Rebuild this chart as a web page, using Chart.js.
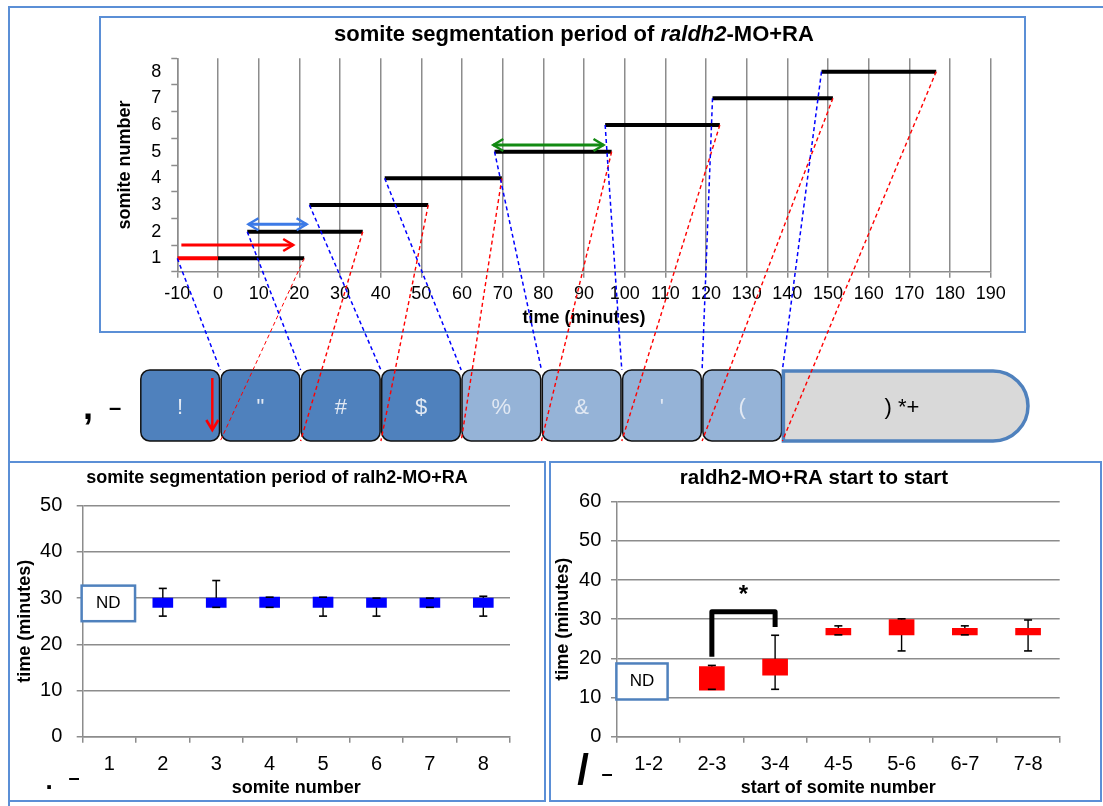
<!DOCTYPE html>
<html>
<head>
<meta charset="utf-8">
<script src="https://cdn.jsdelivr.net/npm/chart.js@4.4.1/dist/chart.umd.min.js"></script>
<style>
  body { margin: 0; background: #fff; width: 1103px; height: 806px; position: relative; overflow: hidden; }
  .frame { position: absolute; box-sizing: border-box; border: 2px solid #5b8fd6; }
  .wrap { position: absolute; }
</style>
</head>
<body>
<div class="frame" style="left:8px;top:6px;width:1100px;height:800px;border-right:none;border-bottom:none"></div>
<div class="frame" style="left:99px;top:16px;width:927px;height:317px"></div>
<div class="frame" style="left:8px;top:461px;width:538px;height:341px"></div>
<div class="frame" style="left:549px;top:461px;width:553px;height:341px"></div>
<div class="wrap" style="left:0;top:0;width:1103px;height:462px"><canvas id="topChart"></canvas></div>
<div class="wrap" style="left:10px;top:464px;width:534px;height:336px"><canvas id="leftChart"></canvas></div>
<div class="wrap" style="left:551px;top:464px;width:549px;height:336px"><canvas id="rightChart"></canvas></div>
<script>
// ---- top panel: segmentation timeline ----
const somiteLabels = ['1', '2', '3', '4', '5', '6', '7', '8'];
const rowTicks = [0, 0.5, 1, 1.5, 2, 2.5, 3, 3.5, 4, 4.5, 5, 5.5, 6, 6.5, 7, 7.5, 8];
const timeTicks = [-10, 0, 10, 20, 30, 40, 50, 60, 70, 80, 90, 100, 110, 120, 130, 140, 150, 160, 170, 180, 190];
const somiteStart = [-10, 7.2, 22.5, 41, 68, 95.2, 121.6, 148.4];
const somiteEnd = [21.2, 35.6, 51.7, 69.8, 96.8, 123.4, 151.2, 176.6];
const firstSeen = 0; // somite 1 before this time is drawn red
const arrowFrom = [-9, 7.5, 67.7];
const arrowTo = [18.5, 21.8, 94.8];
const arrowLevel = [1.0, 1.78, 4.75];
const arrowColor = ['#ff0000', '#3c7ae6', '#138a13'];
const arrowBoth = [false, true, true];
const boxGlyphs = ['!', '"', '#', '$', '%', '&', "'", '('];
const tailGlyph = ') *+';

// ---- bottom left: segmentation period ----
const periodLabels = ['1', '2', '3', '4', '5', '6', '7', '8'];
const periodBoxLow = [null, 28, 28, 28, 28, 28, 28, 28];
const periodBoxHigh = [null, 30, 30, 30.2, 30.2, 30, 30, 30];
const periodMin = [null, 26.1, 28, 28, 26.1, 26.1, 28, 26.1];
const periodMax = [null, 32.1, 33.8, 30.2, 30.2, 30, 30, 30.4];

// ---- bottom right: start to start ----
const startLabels = ['1-2', '2-3', '3-4', '4-5', '5-6', '6-7', '7-8'];
const startBoxLow = [null, 11.9, 15.7, 26, 26, 26, 26];
const startBoxHigh = [null, 17.9, 19.8, 27.7, 29.9, 27.7, 27.7];
const startMin = [null, 12.1, 12.1, 26, 21.9, 26, 21.9];
const startMax = [null, 18.2, 25.9, 28.3, 30.1, 28.3, 29.8];

const GRID = '#8c8c8c';
const FONT = '"Liberation Sans", Arial, sans-serif';
const BOX_LEFT = 140, BOX_W = 80.3, BOX_TOP = 370, BOX_BOTTOM = 441;

const levels = somiteLabels.map((s, i) => i + 0.5);

// free text: titles and panel marks
const textMarks = {
  id: 'textMarks',
  afterDraw(chart, args, opts) {
    const ctx = chart.ctx;
    ctx.save();
    ctx.fillStyle = '#000';
    opts.items.forEach(t => {
      ctx.textBaseline = t.baseline || 'middle';
      const runs = t.runs || [{ text: t.text, font: t.font }];
      let w = 0;
      runs.forEach(r => { ctx.font = r.font; w += ctx.measureText(r.text).width; });
      let x = t.x - w / 2;
      ctx.textAlign = 'left';
      runs.forEach(r => { ctx.font = r.font; ctx.fillText(r.text, x, t.y); x += ctx.measureText(r.text).width; });
    });
    ctx.restore();
  }
};

function chevron(ctx, x, y, dx, dy, color) {
  // open arrow head pointing along (dx, dy)
  ctx.save();
  ctx.strokeStyle = color;
  ctx.lineWidth = 2.5;
  ctx.beginPath();
  ctx.moveTo(x - dx * 10 - dy * 6, y - dy * 10 - dx * 6);
  ctx.lineTo(x, y);
  ctx.lineTo(x - dx * 10 + dy * 6, y - dy * 10 + dx * 6);
  ctx.stroke();
  ctx.restore();
}

const segmentRow = {
  id: 'segmentRow',
  beforeDatasetsDraw(chart) {
    const ctx = chart.ctx;
    ctx.save();
    ctx.font = '22px ' + FONT;
    ctx.textAlign = 'center';
    ctx.textBaseline = 'middle';
    boxGlyphs.forEach((g, i) => {
      const bx = BOX_LEFT + i * BOX_W;
      ctx.beginPath();
      ctx.roundRect(bx + 0.8, BOX_TOP, BOX_W - 1.6, BOX_BOTTOM - BOX_TOP, 9);
      ctx.fillStyle = i < 4 ? '#4f81bd' : '#95b3d7';
      ctx.fill();
      ctx.strokeStyle = '#111';
      ctx.lineWidth = 1.5;
      ctx.stroke();
      ctx.fillStyle = '#e2e9f3';
      ctx.fillText(g, bx + BOX_W / 2, 408);
    });
    const tx = BOX_LEFT + boxGlyphs.length * BOX_W;
    ctx.beginPath();
    ctx.roundRect(tx + 1, BOX_TOP + 1, 1027 - tx, BOX_BOTTOM - BOX_TOP - 1, [0, 36, 36, 0]);
    ctx.fillStyle = '#d9d9d9';
    ctx.fill();
    ctx.strokeStyle = '#4f81bd';
    ctx.lineWidth = 3.5;
    ctx.stroke();
    ctx.fillStyle = '#000';
    ctx.font = '22px ' + FONT;
    ctx.fillText(tailGlyph, 902, 408);
    ctx.restore();
  },
  afterDatasetsDraw(chart) {
    const {ctx, scales: {x, y}} = chart;
    ctx.save();
    ctx.setLineDash([4, 3]);
    somiteStart.forEach((s, i) => {
      const edge = BOX_LEFT + (i + 1) * BOX_W;
      const py = y.getPixelForValue(levels[i]);
      ctx.strokeStyle = '#0000ff';
      ctx.lineWidth = 1.5;
      ctx.beginPath();
      ctx.moveTo(x.getPixelForValue(s), py);
      ctx.lineTo(edge, BOX_TOP);
      ctx.stroke();
      ctx.strokeStyle = '#ff0000';
      ctx.lineWidth = i === 0 ? 1 : 1.4;
      ctx.beginPath();
      ctx.moveTo(x.getPixelForValue(somiteEnd[i]), py);
      ctx.lineTo(edge, BOX_BOTTOM);
      ctx.stroke();
    });
    ctx.setLineDash([]);
    // arrow heads on the arrow datasets
    chart.data.datasets.forEach((ds, i) => {
      if (!ds.arrowHeads) return;
      const pts = chart.getDatasetMeta(i).data;
      const a = pts[0], b = pts[pts.length - 1];
      chevron(ctx, b.x, b.y, 1, 0, ds.borderColor);
      if (ds.arrowHeads === 'both') chevron(ctx, a.x, a.y, -1, 0, ds.borderColor);
    });
    // red arrow inside the first somite box
    const ax = BOX_LEFT + BOX_W - 8;
    ctx.strokeStyle = '#ff0000';
    ctx.lineWidth = 2.5;
    ctx.beginPath();
    ctx.moveTo(ax, BOX_TOP + 8);
    ctx.lineTo(ax, BOX_BOTTOM - 11);
    ctx.stroke();
    chevron(ctx, ax, BOX_BOTTOM - 11, 0, 1, '#ff0000');
    ctx.restore();
  }
};

const topDatasets = [{
  data: [{x: somiteStart[0], y: levels[0]}, {x: firstSeen, y: levels[0]}],
  borderColor: '#ff0000', borderWidth: 4
}];
somiteStart.forEach((s, i) => topDatasets.push({
  data: [{x: i === 0 ? firstSeen : s, y: levels[i]}, {x: somiteEnd[i], y: levels[i]}],
  borderColor: '#000', borderWidth: 4
}));
arrowFrom.forEach((a, i) => topDatasets.push({
  data: [{x: a, y: arrowLevel[i]}, {x: arrowTo[i], y: arrowLevel[i]}],
  borderColor: arrowColor[i], borderWidth: 3, arrowHeads: arrowBoth[i] ? 'both' : 'end'
}));

const axisTitleFont = {size: 18, weight: 'bold', family: FONT};

new Chart(document.getElementById('topChart'), {
  type: 'line',
  data: {datasets: topDatasets},
  plugins: [segmentRow, textMarks],
  options: {
    responsive: true, maintainAspectRatio: false, animation: false,
    layout: {padding: {left: 114.2, right: 112.3, top: 58.3, bottom: 132.9}},
    elements: {point: {radius: 0}, line: {borderCapStyle: 'butt', tension: 0}},
    plugins: {
      legend: {display: false}, tooltip: {enabled: false},
      textMarks: {items: [
        {x: 574, y: 35, runs: [
          {text: 'somite segmentation period of ', font: 'bold 22px ' + FONT},
          {text: 'raldh2', font: 'italic bold 22px ' + FONT},
          {text: '-MO+RA', font: 'bold 22px ' + FONT}]},
        {x: 88, y: 419, text: ',', font: 'bold 36px ' + FONT, baseline: 'alphabetic'},
        {x: 115, y: 409, text: '–', font: 'bold 22px ' + FONT}
      ]}
    },
    scales: {
      x: {
        type: 'linear', min: -10, max: 190,
        afterBuildTicks: s => { s.ticks = timeTicks.map(v => ({value: v})); },
        afterFit: s => { s.height = 57.4; },
        ticks: {autoSkip: false, maxRotation: 0, padding: 5.8, color: '#000', font: {size: 18, family: FONT}},
        grid: {color: GRID, lineWidth: 1.5, tickLength: 6},
        border: {color: GRID, width: 1.5},
        title: {display: true, text: 'time (minutes)', color: '#000', font: axisTitleFont, padding: {top: 0, bottom: 0}}
      },
      y: {
        type: 'linear', min: 0, max: 8,
        afterBuildTicks: s => { s.ticks = rowTicks.map(v => ({value: v})); },
        afterFit: s => { s.width = 63.1; },
        ticks: {
          autoSkip: false, padding: 10, color: '#000', font: {size: 18, family: FONT},
          callback: v => Number.isInteger(v) ? '' : somiteLabels[v - 0.5]
        },
        grid: {
          drawOnChartArea: false, tickLength: 6, tickWidth: 1.5,
          tickColor: c => Number.isInteger(c.tick.value) ? GRID : 'rgba(0,0,0,0)'
        },
        border: {color: GRID, width: 1.5},
        title: {display: true, text: 'somite number', color: '#000', font: axisTitleFont, padding: {top: 0, bottom: 0}}
      }
    }
  }
});

// ---- bottom charts: boxes with whiskers ----
const errorBars = {
  id: 'errorBars',
  beforeDatasetsDraw(chart, args, opts) {
    const {ctx, scales: {x, y}} = chart;
    ctx.save();
    ctx.strokeStyle = '#000';
    ctx.lineWidth = 1.4;
    opts.min.forEach((lo, i) => {
      if (lo == null) return;
      const px = x.getPixelForValue(i);
      ctx.beginPath();
      ctx.moveTo(px, y.getPixelForValue(lo));
      ctx.lineTo(px, y.getPixelForValue(opts.max[i]));
      ctx.stroke();
    });
    ctx.restore();
  },
  afterDatasetsDraw(chart, args, opts) {
    const {ctx, scales: {x, y}} = chart;
    ctx.save();
    ctx.strokeStyle = '#000';
    ctx.lineWidth = 1.6;
    opts.min.forEach((lo, i) => {
      if (lo == null) return;
      const px = x.getPixelForValue(i);
      [lo, opts.max[i]].forEach(v => {
        const py = y.getPixelForValue(v);
        ctx.beginPath();
        ctx.moveTo(px - 4, py);
        ctx.lineTo(px + 4, py);
        ctx.stroke();
      });
    });
    // "not determined" box
    const nd = opts.nd;
    const x0 = x.getPixelForValue(nd.from), x1 = x.getPixelForValue(nd.to);
    const y0 = y.getPixelForValue(nd.high), y1 = y.getPixelForValue(nd.low);
    ctx.fillStyle = '#fff';
    ctx.fillRect(x0, y0, x1 - x0, y1 - y0);
    ctx.strokeStyle = '#4f81bd';
    ctx.lineWidth = 2.5;
    ctx.strokeRect(x0, y0, x1 - x0, y1 - y0);
    ctx.fillStyle = '#000';
    ctx.font = '17px ' + FONT;
    ctx.textAlign = 'center';
    ctx.textBaseline = 'middle';
    ctx.fillText('ND', (x0 + x1) / 2, (y0 + y1) / 2);
    // significance bracket
    const br = opts.bracket;
    if (br) {
      const bx0 = x.getPixelForValue(br.from), bx1 = x.getPixelForValue(br.to);
      ctx.strokeStyle = '#000';
      ctx.lineWidth = 5;
      ctx.lineJoin = 'round';
      ctx.beginPath();
      ctx.moveTo(bx0, y.getPixelForValue(br.leftLow));
      ctx.lineTo(bx0, y.getPixelForValue(br.top));
      ctx.lineTo(bx1, y.getPixelForValue(br.top));
      ctx.lineTo(bx1, y.getPixelForValue(br.rightLow));
      ctx.stroke();
      ctx.font = 'bold 24px ' + FONT;
      ctx.fillText('*', (bx0 + bx1) / 2, y.getPixelForValue(br.star) + 5);
    }
    ctx.restore();
  }
};

function bottomScales(max, yWidth, yPad, xTitle) {
  return {
    x: {
      offset: true,
      afterFit: s => { s.height = 62.1; },
      ticks: {padding: 9.3, color: '#000', font: {size: 20, family: FONT}},
      grid: {offset: true, drawOnChartArea: false, tickLength: 6, color: GRID, lineWidth: 1.5},
      border: {color: GRID, width: 1.5},
      title: {display: true, text: xTitle, color: '#000', font: axisTitleFont, padding: {top: 0, bottom: 0}}
    },
    y: {
      min: 0, max: max,
      afterFit: s => { s.width = yWidth; },
      ticks: {stepSize: 10, padding: yPad, color: '#000', font: {size: 20, family: FONT}},
      grid: {color: GRID, lineWidth: 1.5, tickLength: 6},
      border: {color: GRID, width: 1.5},
      title: {display: true, text: 'time (minutes)', color: '#000', font: axisTitleFont, padding: {top: 0, bottom: 0}}
    }
  };
}

new Chart(document.getElementById('leftChart'), {
  type: 'bar',
  data: {
    labels: periodLabels,
    datasets: [{
      data: periodBoxLow.map((lo, i) => lo == null ? null : [lo, periodBoxHigh[i]]),
      backgroundColor: '#0000ff', barThickness: 20, borderWidth: 0
    }]
  },
  plugins: [errorBars, textMarks],
  options: {
    responsive: true, maintainAspectRatio: false, animation: false,
    layout: {padding: {left: 4.2, right: 34, top: 41.7, bottom: 1.2}},
    plugins: {
      legend: {display: false}, tooltip: {enabled: false},
      errorBars: {min: periodMin, max: periodMax, nd: {from: -0.52, to: 0.48, low: 25, high: 32.7}},
      textMarks: {items: [
        {x: 267, y: 14, text: 'somite segmentation period of ralh2-MO+RA', font: 'bold 18px ' + FONT},
        {x: 39, y: 325, text: '.', font: 'bold 26px ' + FONT, baseline: 'alphabetic'},
        {x: 64, y: 314, text: '–', font: 'bold 20px ' + FONT}
      ]}
    },
    scales: bottomScales(50, 68.5, 14.4, 'somite number')
  }
});

new Chart(document.getElementById('rightChart'), {
  type: 'bar',
  data: {
    labels: startLabels,
    datasets: [{
      data: startBoxLow.map((lo, i) => lo == null ? null : [lo, startBoxHigh[i]]),
      backgroundColor: '#ff0000', barThickness: 25, borderWidth: 0
    }]
  },
  plugins: [errorBars, textMarks],
  options: {
    responsive: true, maintainAspectRatio: false, animation: false,
    layout: {padding: {left: 1.2, right: 40.3, top: 37.7, bottom: 1.2}},
    plugins: {
      legend: {display: false}, tooltip: {enabled: false},
      errorBars: {
        min: startMin, max: startMax,
        nd: {from: -0.51, to: 0.3, low: 9.5, high: 18.7},
        bracket: {from: 1, to: 2, leftLow: 20.4, top: 31.9, rightLow: 28, star: 37.4}
      },
      textMarks: {items: [
        {x: 263, y: 14, text: 'raldh2-MO+RA start to start', font: 'bold 20.5px ' + FONT},
        {x: 32, y: 308, text: '/', font: 'bold 42px ' + FONT},
        {x: 56, y: 310, text: '–', font: 'bold 20px ' + FONT}
      ]}
    },
    scales: bottomScales(60, 64.8, 9.7, 'start of somite number')
  }
});
</script>
</body>
</html>
